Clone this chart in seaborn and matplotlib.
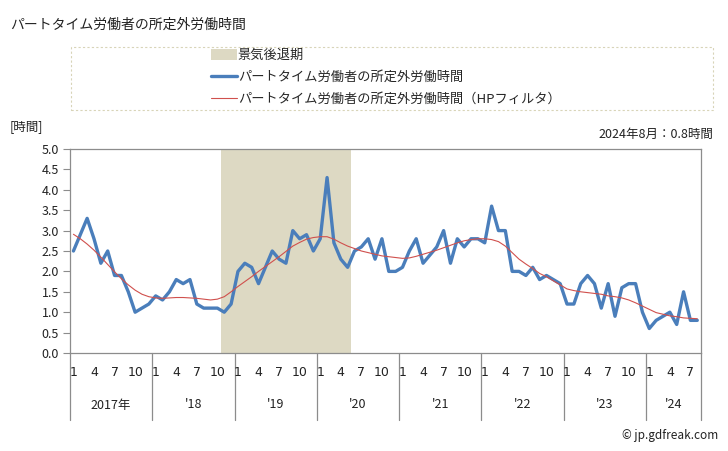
import matplotlib
matplotlib.use("Agg")
import matplotlib.pyplot as plt
import matplotlib.transforms as mtransforms
from matplotlib.patches import Rectangle, Patch
from matplotlib.lines import Line2D
import numpy as np
import pandas as pd
import seaborn as sns

# ---- data (monthly, Jan 2017 - Aug 2024) ----
start_year = 2017
n_months = 92
hours = [
    2.5, 2.9, 3.3, 2.8, 2.2, 2.5, 1.9, 1.9, 1.5, 1.0, 1.1, 1.2,   # 2017
    1.4, 1.3, 1.5, 1.8, 1.7, 1.8, 1.2, 1.1, 1.1, 1.1, 1.0, 1.2,   # 2018
    2.0, 2.2, 2.1, 1.7, 2.1, 2.5, 2.3, 2.2, 3.0, 2.8, 2.9, 2.5,   # 2019
    2.8, 4.3, 2.7, 2.3, 2.1, 2.5, 2.6, 2.8, 2.3, 2.8, 2.0, 2.0,   # 2020
    2.1, 2.5, 2.8, 2.2, 2.4, 2.6, 3.0, 2.2, 2.8, 2.6, 2.8, 2.8,   # 2021
    2.7, 3.6, 3.0, 3.0, 2.0, 2.0, 1.9, 2.1, 1.8, 1.9, 1.8, 1.7,   # 2022
    1.2, 1.2, 1.7, 1.9, 1.7, 1.1, 1.7, 0.9, 1.6, 1.7, 1.7, 1.0,   # 2023
    0.6, 0.8, 0.9, 1.0, 0.7, 1.5, 0.8, 0.8,                       # 2024
]
hp_trend = [
    2.91, 2.80, 2.67, 2.52, 2.35, 2.17, 1.99, 1.82, 1.67, 1.54, 1.44, 1.38,
    1.35, 1.34, 1.35, 1.36, 1.36, 1.35, 1.34, 1.32, 1.30, 1.32, 1.38, 1.50,
    1.63, 1.75, 1.87, 2.00, 2.12, 2.24, 2.36, 2.49, 2.62, 2.71, 2.79, 2.83,
    2.85, 2.85, 2.79, 2.70, 2.62, 2.56, 2.50, 2.46, 2.42, 2.38, 2.36, 2.34,
    2.32, 2.33, 2.37, 2.42, 2.47, 2.52, 2.58, 2.64, 2.70, 2.75, 2.78, 2.80,
    2.80, 2.78, 2.73, 2.62, 2.46, 2.30, 2.18, 2.07, 1.95, 1.87, 1.77, 1.67,
    1.57, 1.53, 1.50, 1.48, 1.46, 1.44, 1.40, 1.38, 1.35, 1.30, 1.23, 1.15,
    1.07, 0.99, 0.95, 0.91, 0.89, 0.86, 0.85, 0.84,
]
recession_start = 22   # Nov 2018 (month index)
recession_end = 40     # May 2020 (month index)
month_labels = ["1", "4", "7", "10"]
month_label_pos = [0, 3, 6, 9]
year_labels = ["2017年", "'18", "'19", "'20", "'21", "'22", "'23", "'24"]
y_ticks = [0.0, 0.5, 1.0, 1.5, 2.0, 2.5, 3.0, 3.5, 4.0, 4.5, 5.0]

title = "パートタイム労働者の所定外労働時間"
series_name = "パートタイム労働者の所定外労働時間"
hp_name = "パートタイム労働者の所定外労働時間（HPフィルタ）"
shade_name = "景気後退期"
unit_label = "[時間]"
latest_note = "2024年8月：0.8時間"
credit = "© jp.gdfreak.com"

df = pd.DataFrame({"idx": np.arange(n_months), "hours": hours, "hp": hp_trend})

# ---- style ----
sns.set_theme(style="white")
plt.rcParams["font.family"] = ["Noto Sans CJK JP", "DejaVu Sans"]

W, H = 728, 451
fig = plt.figure(figsize=(W / 100, H / 100), dpi=100)
L, R, T, B = 70, 700.7, 149, 353
ax = fig.add_axes([L / W, 1 - B / H, (R - L) / W, (B - T) / H])

blue = "#4A7EBB"
red = "#D0504D"
shade = "#DDD9C3"
grey = "#8C8C8C"

ax.axvspan(recession_start - 0.5, recession_end + 0.5, color=shade, lw=0, zorder=0)
sns.lineplot(data=df, x="idx", y="hours", ax=ax, color=blue, linewidth=2.4, zorder=3)
sns.lineplot(data=df, x="idx", y="hp", ax=ax, color=red, linewidth=0.8, zorder=4)

ax.set_xlim(-0.5, n_months - 0.5)
ax.set_ylim(0, 5)
ax.set_yticks(y_ticks)
ax.set_yticklabels([f"{v:.1f}" for v in y_ticks], fontsize=9, color="#222222")
ax.tick_params(axis="y", which="major", length=5, width=0.8, color=grey, pad=3, left=True)
ax.set_xticks([])
ax.set_xlabel("")
ax.set_ylabel("")
for s in ax.spines.values():
    s.set_color(grey)
    s.set_linewidth(0.9)
ax.grid(False)

# x axis: year separators and labels
trans = mtransforms.blended_transform_factory(ax.transData, ax.transAxes)
sep_bottom = -(420 - B) / (B - T)
n_years = len(year_labels)
for k in range(n_years + 1):
    x = min(k * 12, n_months) - 0.5
    ax.plot([x, x], [0, sep_bottom], transform=trans, color=grey, lw=0.9, clip_on=False)
month_y = -(373 - B) / (B - T)
year_y = -(405 - B) / (B - T)
for k, yl in enumerate(year_labels):
    for ml, mp in zip(month_labels, month_label_pos):
        idx = k * 12 + mp
        if idx < n_months:
            ax.text(idx, month_y, ml, transform=trans, ha="center", va="center",
                    fontsize=9, color="#222222", family=["DejaVu Sans"])
    x0 = k * 12 - 0.5
    x1 = min((k + 1) * 12, n_months) - 0.5
    ax.text((x0 + x1) / 2, year_y, yl, transform=trans, ha="center", va="center",
            fontsize=9, color="#222222")

# texts
fig.text(10 / W, 1 - 25 / H, title, ha="left", va="center", fontsize=10, color="#222222")
fig.text(10 / W, 1 - 127 / H, unit_label, ha="left", va="center", fontsize=9, color="#222222")
fig.text(713 / W, 1 - 134 / H, latest_note, ha="right", va="center", fontsize=9, color="#222222")
fig.text(718 / W, 1 - 436 / H, credit, ha="right", va="center", fontsize=8.5, color="#222222")

# legend box
fig.patches.append(Rectangle((71 / W, 1 - 110 / H), (713 - 71) / W, (110 - 47) / H,
                             transform=fig.transFigure, fill=False, ec="#D8D4B8",
                             lw=0.8, ls=(0, (2, 2))))
handles = [Patch(facecolor=shade, edgecolor="none"),
           Line2D([], [], color=blue, lw=2.4),
           Line2D([], [], color=red, lw=0.8)]
fig.legend(handles, [shade_name, series_name, hp_name], loc="upper left",
           bbox_to_anchor=(208 / W, 1 - 46 / H), frameon=False, fontsize=9.5,
           handlelength=2.0, handleheight=0.9, handletextpad=0.05, labelspacing=0.68,
           borderaxespad=0, borderpad=0.2)

fig.savefig("out.png", dpi=100)
